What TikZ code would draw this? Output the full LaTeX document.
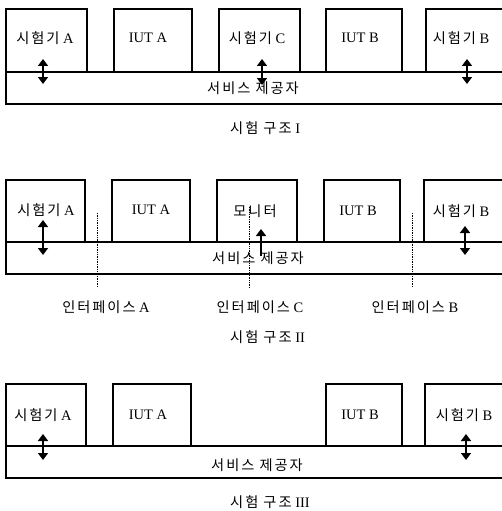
\documentclass[tikz,border=0pt]{standalone}
\usepackage{fontspec}
\setmainfont{Liberation Serif}
\newfontfamily\kr[LetterSpace=14,Scale=0.98]{Noto Sans CJK KR}
\usetikzlibrary{arrows.meta}
\begin{document}
\begin{tikzpicture}[x=1pt,y=-1pt,
  box/.style={draw,line width=1.2pt,anchor=north west,inner sep=0pt,outer sep=0pt},
  lbl/.style={inner sep=0pt,font=\fontsize{14.5}{16}\selectfont},
  dbl/.style={line width=1.5pt,{Triangle[width=10pt,length=7pt]}-{Triangle[width=10pt,length=7pt]}},
  sgl/.style={line width=1.5pt,-{Triangle[width=10pt,length=7pt]}},
  ifl/.style={densely dotted,line width=0.7pt}]
\useasboundingbox (0,0) rectangle (502,511);
% ---------- Structure I
\node[box,minimum width=81pt,minimum height=63pt] (tA1) at (6,9) {};
\node[box,minimum width=78pt,minimum height=63pt] (iA1) at (114,9) {};
\node[box,minimum width=81pt,minimum height=63pt] (tC1) at (219,9) {};
\node[box,minimum width=76pt,minimum height=63pt] (iB1) at (326,9) {};
\node[box,minimum width=84pt,minimum height=63pt] (tB1) at (426,9) {};
\node[box,minimum width=500pt,minimum height=32pt] (sp1) at (6,72) {};
\node[lbl] (ltA1) at (45,38) {{\kr 시험기} A};
\node[lbl] (liA1) at (148,38) {IUT A};
\node[lbl] (ltC1) at (257,38) {{\kr 시험기} C};
\node[lbl] (liB1) at (360,38) {IUT B};
\node[lbl] (ltB1) at (461,38) {{\kr 시험기} B};
\node[lbl] (lsp1) at (253,88) {\kr 서비스 제공자};
\node[lbl,anchor=west] (cap1) at (230,128) {{\kr 시험 구조} I};
\coordinate (a1t) at (43,59); \coordinate (a1b) at (43,84);
\coordinate (c1t) at (262,59); \coordinate (c1b) at (262,85);
\coordinate (b1t) at (467,59); \coordinate (b1b) at (467,84);
\draw[dbl] (a1t) -- (a1b);
\draw[dbl] (c1t) -- (c1b);
\draw[dbl] (b1t) -- (b1b);
% ---------- Structure II
\node[box,minimum width=79pt,minimum height=62pt] (tA2) at (6,180) {};
\node[box,minimum width=78pt,minimum height=62pt] (iA2) at (112,180) {};
\node[box,minimum width=80pt,minimum height=62pt] (mo2) at (217,180) {};
\node[box,minimum width=76pt,minimum height=62pt] (iB2) at (324,180) {};
\node[box,minimum width=84pt,minimum height=62pt] (tB2) at (424,180) {};
\node[box,minimum width=500pt,minimum height=32pt] (sp2) at (6,242) {};
\node[lbl] (ltA2) at (46,210) {{\kr 시험기} A};
\node[lbl] (liA2) at (151,210) {IUT A};
\node[lbl] (lmo2) at (255,211) {\kr 모니터};
\node[lbl] (liB2) at (358,211) {IUT B};
\node[lbl] (ltB2) at (461,211) {{\kr 시험기} B};
\node[lbl] (lsp2) at (258,258) {\kr 서비스 제공자};
\coordinate (ifAt) at (97,213); \coordinate (ifAb) at (97,287);
\coordinate (ifCt) at (249,207); \coordinate (ifCb) at (249,287);
\coordinate (ifBt) at (412,213); \coordinate (ifBb) at (412,287);
\draw[ifl] (ifAt) -- (ifAb);
\draw[ifl] (ifCt) -- (ifCb);
\draw[ifl] (ifBt) -- (ifBb);
\node[lbl] (lifA) at (106,307) {{\kr 인터페이스} A};
\node[lbl] (lifC) at (260,307) {{\kr 인터페이스} C};
\node[lbl] (lifB) at (415,307) {{\kr 인터페이스} B};
\node[lbl,anchor=west] (cap2) at (230,337) {{\kr 시험 구조} II};
\coordinate (a2t) at (43,220); \coordinate (a2b) at (43,255);
\coordinate (m2t) at (261,229); \coordinate (m2b) at (261,256);
\coordinate (b2t) at (465,226); \coordinate (b2b) at (465,255);
\draw[dbl] (a2t) -- (a2b);
\draw[sgl] (m2b) -- (m2t);
\draw[dbl] (b2t) -- (b2b);
% ---------- Structure III
\node[box,minimum width=80pt,minimum height=62pt] (tA3) at (6,384) {};
\node[box,minimum width=78pt,minimum height=62pt] (iA3) at (113,384) {};
\node[box,minimum width=76pt,minimum height=62pt] (iB3) at (326,384) {};
\node[box,minimum width=85pt,minimum height=62pt] (tB3) at (425,384) {};
\node[box,minimum width=500pt,minimum height=32pt] (sp3) at (6,446) {};
\node[lbl] (ltA3) at (43,415) {{\kr 시험기} A};
\node[lbl] (liA3) at (148,415) {IUT A};
\node[lbl] (liB3) at (360,415) {IUT B};
\node[lbl] (ltB3) at (464,415) {{\kr 시험기} B};
\node[lbl] (lsp3) at (257,465) {\kr 서비스 제공자};
\node[lbl,anchor=west] (cap3) at (230,502) {{\kr 시험 구조} III};
\coordinate (a3t) at (43,434); \coordinate (a3b) at (43,460);
\coordinate (b3t) at (466,434); \coordinate (b3b) at (466,460);
\draw[dbl] (a3t) -- (a3b);
\draw[dbl] (b3t) -- (b3b);
\end{tikzpicture}
\end{document}
